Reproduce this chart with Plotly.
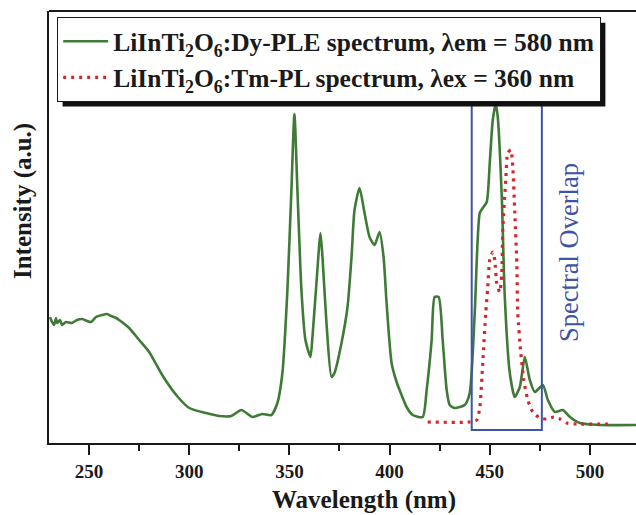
import plotly.graph_objects as go

# ---- data ----
ple_wavelength = [230.5, 231.5, 232.5, 233.5, 234, 235.5, 236.5, 238.5, 241.5, 244, 246.5, 249, 251,
                  253.5, 256.5, 259, 261, 263.5, 265, 270, 275, 280, 286.5, 293.5, 300, 308.5, 315,
                  321, 326, 331.5, 336.5, 341, 344, 346.5, 349, 351, 352.5, 354, 356, 358, 360.5,
                  361.5, 363.5, 365.5, 366.5, 368.5, 371, 372.5, 376, 379, 381, 382.5, 385, 387.5,
                  390, 392.5, 395, 397, 398.5, 401, 403.5, 405, 408.5, 411.5, 416.5, 418.5, 421,
                  422.5, 424.5, 426.5, 428.5, 430, 432.5, 437.5, 440, 442.5, 445, 446.5, 448.5, 450,
                  451.5, 453, 454, 456, 457.5, 460, 462.5, 465, 467.5, 470, 472.5, 476.5, 479, 482.5,
                  486.5, 490, 495, 505, 523]
ple_intensity = [126, 121, 118, 125, 120, 123, 118, 121, 120, 123, 124, 122, 121,
                 126, 128, 129, 127, 125, 123, 115, 103, 91, 68, 48, 35, 30, 27,
                 27, 33, 26, 29, 28, 40, 70, 153, 253, 329, 253, 153, 103, 86,
                 106, 160, 210, 186, 120, 66, 70, 100, 136, 186, 233, 255, 230,
                 206, 198, 211, 186, 140, 80, 61, 53, 36, 28, 26, 53, 103,
                 146, 146, 103, 53, 38, 35, 38, 50, 130, 230, 235, 241, 280,
                 323, 339, 326, 246, 146, 70, 46, 56, 86, 63, 51, 58, 43, 31,
                 33, 26, 20, 18, 18]

pl_wavelength = [419, 440, 443.5, 445, 446.5, 448, 449, 450, 451.5, 452.5, 453.5, 455, 456, 456.5,
                 458, 459, 460.5, 461.5, 462.5, 463.5, 464, 465.5, 467, 469, 471.5, 475, 478.5,
                 482, 485, 488.5, 493.5, 509]
pl_intensity = [21, 21, 23, 35, 80, 130, 156, 183, 191, 183, 160, 151, 170, 213,
                263, 290, 293, 276, 230, 180, 130, 90, 63, 43, 31, 25, 24,
                26, 24, 20, 19, 19]

ple_name = "LiInTi<sub>2</sub>O<sub>6</sub>:Dy-PLE spectrum, λem = 580 nm"
pl_name = "LiInTi<sub>2</sub>O<sub>6</sub>:Tm-PL spectrum, λex = 360 nm"
x_ticks = [250, 300, 350, 400, 450, 500]
overlap_window = [441, 476]
overlap_height = [13, 344]

SERIF = "Liberation Serif"
GREEN = "#3f7a37"
RED = "#d8232a"
BLUE = "#3d55a5"
INK = "#1a1a1a"
SHADOW_OFFSET = 5  # px, legend drop shadow

fig = go.Figure()
fig.add_trace(go.Scatter(x=ple_wavelength, y=ple_intensity, mode="lines", name=ple_name,
                         line=dict(color=GREEN, width=2.6, shape="spline", smoothing=0.6)))
fig.add_trace(go.Scatter(x=pl_wavelength, y=pl_intensity, mode="lines", name=pl_name,
                         line=dict(color=RED, width=3.2, dash="3px,5px", shape="spline", smoothing=0.6)))

# spectral overlap box and label
fig.add_shape(type="rect", xref="x", yref="y",
              x0=overlap_window[0], x1=overlap_window[1], y0=overlap_height[0], y1=overlap_height[1],
              line=dict(color=BLUE, width=2))
fig.add_annotation(x=489.5, y=191, xref="x", yref="y", text="Spectral Overlap", showarrow=False,
                   textangle=-90, font=dict(family=SERIF, size=26.5, color=BLUE))

# top frame line
fig.add_shape(type="line", xref="paper", yref="paper", x0=0, x1=1, y0=1, y1=1,
              line=dict(color=INK, width=2))

# legend shadow (initial estimate; fitted to the real legend box after rendering)
fig.add_shape(type="rect", xref="paper", yref="paper", x0=0.0238, x1=0.9506, y0=0.7963, y1=0.9730,
              fillcolor="#111111", line=dict(width=0), layer="above")

# axis titles
fig.add_annotation(x=0.537, y=-0.132, xref="paper", yref="paper", text="Wavelength (nm)",
                   showarrow=False, yanchor="middle",
                   font=dict(family=SERIF, size=25, color=INK, weight="bold"))
fig.add_annotation(x=-0.0443, y=0.56, xref="paper", yref="paper", text="Intensity (a.u.)",
                   showarrow=False, textangle=-90, xanchor="center",
                   font=dict(family=SERIF, size=25, color=INK, weight="bold"))

fig.update_layout(
    width=636, height=515,
    margin=dict(l=49, r=0, t=11, b=72),
    plot_bgcolor="white", paper_bgcolor="white",
    showlegend=True,
    legend=dict(x=0.0136, y=0.986, xanchor="left", yanchor="top",
                bgcolor="white", bordercolor=INK, borderwidth=1.2,
                font=dict(family=SERIF, size=25.5, color=INK, weight="bold"),
                itemwidth=45, tracegroupgap=0),
    xaxis=dict(range=[230, 523], showgrid=False, zeroline=False,
               showline=True, linecolor=INK, linewidth=2,
               ticks="outside", ticklen=10, tickwidth=2, tickcolor=INK,
               tickvals=x_ticks,
               minor=dict(ticks="outside", ticklen=6, tickwidth=1.5, tickcolor=INK, dtick=25),
               tickfont=dict(family=SERIF, size=19, color=INK, weight="bold")),
    yaxis=dict(range=[0, 432], showgrid=False, zeroline=False,
               showline=True, linecolor=INK, linewidth=2,
               showticklabels=False, ticks=""),
)

post_js = """
document.body.style.margin='0';
document.body.style.overflow='hidden';
(function(){
  var gd = document.getElementById('{plot_id}');
  try {
    var bg = gd.querySelector('.legend .bg');
    if (!bg) return;
    var g = gd.getBoundingClientRect();
    var r = bg.getBoundingClientRect();
    var sz = gd._fullLayout._size;
    var off = %d;
    var upd = {
      'shapes[2].x0': (r.left - g.left + off - sz.l) / sz.w,
      'shapes[2].x1': (r.right - g.left + off - sz.l) / sz.w,
      'shapes[2].y1': 1 - (r.top - g.top + off - sz.t) / sz.h,
      'shapes[2].y0': 1 - (r.bottom - g.top + off - sz.t) / sz.h
    };
    Plotly.relayout(gd, upd);
  } catch (e) {}
})();
""" % SHADOW_OFFSET

fig.write_html("out.html", config={"displayModeBar": False}, post_script=post_js)
